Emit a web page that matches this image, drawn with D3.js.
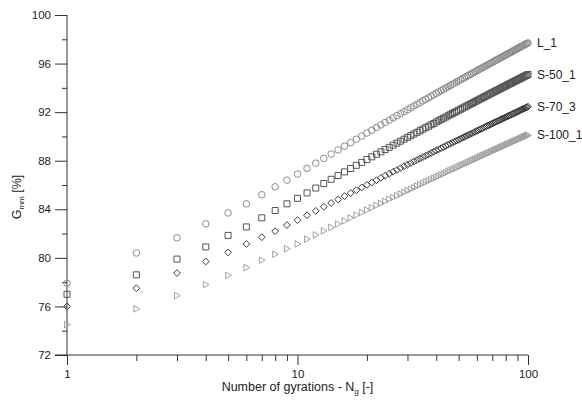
<!DOCTYPE html>
<html><head><meta charset="utf-8">
<script src="https://cdn.jsdelivr.net/npm/d3@7"></script>
<style>
html,body{margin:0;padding:0;background:#fff;}
svg{display:block;font-family:"Liberation Sans",Arial,sans-serif;}
</style></head>
<body><svg id="c" width="582" height="409"></svg>
<script>
const gyrations = d3.range(1, 101);
const seriesNames = ["L_1", "S-50_1", "S-70_3", "S-100_1"];
const L_1 = [77.9,80.4,81.65,82.8,83.7,84.45,85.2,85.85,86.4,
86.9,87.37,87.8,88.19,88.55,88.89,89.2,89.49,89.77,90.03,90.28,90.51,90.73,90.95,91.15,91.34,91.53,91.71,91.88,92.04,
92.2,92.36,92.51,92.65,92.79,92.93,93.06,93.18,93.31,93.43,93.55,93.66,93.77,93.88,93.99,94.09,94.19,94.29,94.39,94.48,
94.58,94.67,94.75,94.84,94.93,95.01,95.09,95.17,95.25,95.33,95.41,95.48,95.56,95.63,95.7,95.77,95.84,95.91,95.98,96.04,
96.11,96.17,96.23,96.3,96.36,96.42,96.48,96.53,96.59,96.65,96.71,96.76,96.82,96.87,96.92,96.98,97.03,97.08,97.13,97.18,
97.23,97.28,97.33,97.38,97.43,97.47,97.52,97.57,97.61,97.66,97.7];
const S_50_1 = [77.0,78.6,79.9,80.9,81.85,82.55,83.3,83.9,84.45,
84.9,85.35,85.75,86.12,86.47,86.78,87.08,87.36,87.62,87.86,88.1,88.32,88.53,88.73,88.92,89.1,89.28,89.45,89.61,89.77,
89.92,90.06,90.2,90.34,90.47,90.6,90.72,90.84,90.96,91.07,91.19,91.29,91.4,91.5,91.6,91.7,91.79,91.89,91.98,92.07,
92.16,92.24,92.33,92.41,92.49,92.57,92.65,92.72,92.8,92.87,92.94,93.01,93.08,93.15,93.22,93.28,93.35,93.41,93.48,93.54,
93.6,93.66,93.72,93.78,93.83,93.89,93.95,94.0,94.06,94.11,94.16,94.22,94.27,94.32,94.37,94.42,94.47,94.52,94.57,94.61,
94.66,94.71,94.75,94.8,94.84,94.89,94.93,94.97,95.02,95.06,95.1];
const S_70_3 = [76.0,77.5,78.75,79.7,80.45,81.15,81.7,82.2,82.7,
83.1,83.51,83.87,84.21,84.52,84.81,85.08,85.33,85.57,85.8,86.01,86.21,86.4,86.59,86.76,86.93,87.09,87.24,87.39,87.54,
87.67,87.81,87.94,88.06,88.18,88.3,88.41,88.52,88.63,88.74,88.84,88.94,89.03,89.13,89.22,89.31,89.4,89.48,89.57,89.65,
89.73,89.81,89.89,89.96,90.04,90.11,90.18,90.25,90.32,90.39,90.45,90.52,90.58,90.65,90.71,90.77,90.83,90.89,90.95,91.0,
91.06,91.12,91.17,91.23,91.28,91.33,91.38,91.43,91.49,91.53,91.58,91.63,91.68,91.73,91.77,91.82,91.87,91.91,91.96,92.0,
92.04,92.08,92.13,92.17,92.21,92.25,92.29,92.33,92.37,92.41,92.45];
const S_100_1 = [74.5,75.8,76.9,77.8,78.55,79.2,79.8,80.3,80.75,
81.15,81.54,81.89,82.22,82.51,82.79,83.05,83.29,83.52,83.74,83.94,84.13,84.32,84.49,84.66,84.82,84.97,85.12,85.26,85.4,
85.53,85.66,85.78,85.9,86.02,86.13,86.24,86.35,86.45,86.55,86.65,86.74,86.83,86.92,87.01,87.1,87.18,87.27,87.34,87.42,
87.5,87.58,87.65,87.72,87.79,87.86,87.93,88.0,88.06,88.13,88.19,88.25,88.32,88.38,88.44,88.49,88.55,88.61,88.66,88.72,
88.77,88.83,88.88,88.93,88.98,89.03,89.08,89.13,89.18,89.22,89.27,89.32,89.36,89.41,89.45,89.5,89.54,89.58,89.63,89.67,
89.71,89.75,89.79,89.83,89.87,89.91,89.95,89.99,90.03,90.06,90.1];
const yTicksMajor = [72, 76, 80, 84, 88, 92, 96, 100];
const yTicksMinor = [74, 78, 82, 86, 90, 94, 98];
const xTicksMajor = [1, 10, 100];
const xTicksMinor = [2,3,4,5,6,7,8,9,20,30,40,50,60,70,80,90];

const seriesValues = [L_1, S_50_1, S_70_3, S_100_1];
const markerStyle = [
  {shape: "circle", color: "#8c8c8c"},
  {shape: "square", color: "#555"},
  {shape: "diamond", color: "#3a3a3a"},
  {shape: "triangle", color: "#a0a0a0"}
];

const svg = d3.select("#c");
const x = d3.scaleLog().domain([1, 100]).range([67, 528]);
const y = d3.scaleLinear().domain([72, 100]).range([355, 15]);
const axisColor = "#333";

// y axis
const yAxis = svg.append("g").attr("transform", "translate(67,0)");
yAxis.call(d3.axisLeft(y).tickValues(yTicksMajor).tickSize(12).tickPadding(4).tickFormat(d3.format("d")));
yAxis.append("g").call(d3.axisLeft(y).tickValues(yTicksMinor).tickSize(5).tickFormat(""));
yAxis.selectAll(".domain").remove();
yAxis.append("line").attr("x1",0).attr("x2",0).attr("y1",y(100)).attr("y2",y(72));

// x axis
const xAxis = svg.append("g").attr("transform", "translate(0,355)");
xAxis.call(d3.axisBottom(x).tickValues(xTicksMajor).tickSize(10).tickPadding(5).tickFormat(d3.format("d")));
xAxis.append("g").call(d3.axisBottom(x).tickValues(xTicksMinor).tickSize(6).tickFormat(""));
xAxis.selectAll(".domain").remove();
xAxis.append("line").attr("x1",55).attr("x2",x(100)).attr("y1",0).attr("y2",0);

svg.selectAll(".tick line, g > line").attr("stroke", axisColor).attr("stroke-width", 1);
svg.selectAll(".tick text").attr("fill", "#222").style("font-size", "11.5px").style("font-family", '"Liberation Sans",Arial,sans-serif');

// axis titles
const xt = svg.append("text").attr("x", x(10)).attr("y", 391).attr("text-anchor", "middle")
  .attr("fill", "#222").style("font-size", "12.5px");
xt.append("tspan").text("Number of gyrations - N");
xt.append("tspan").attr("dy", 3).style("font-size", "8px").text("g");
xt.append("tspan").attr("dy", -3).text(" [-]");

const yt = svg.append("text").attr("transform", "translate(21,197) rotate(-90)").attr("text-anchor", "middle")
  .attr("fill", "#222").style("font-size", "12.5px");
yt.append("tspan").text("G");
yt.append("tspan").attr("dy", 3).style("font-size", "8px").text("mm");
yt.append("tspan").attr("dy", -3).text(" [%]");

// marker paths
function markerPath(shape) {
  switch (shape) {
    case "circle": return d3.symbol().type(d3.symbolCircle).size(34)();
    case "square": return "M-3,-3L3,-3L3,3L-3,3Z";
    case "diamond": return "M0,-3.4L3.4,0L0,3.4L-3.4,0Z";
    case "triangle": return "M-2.5,-3.3L3.3,0L-2.5,3.3Z";
  }
}

seriesValues.forEach((vals, i) => {
  const st = markerStyle[i];
  const g = svg.append("g");
  g.selectAll("path").data(gyrations.map((n, k) => [n, vals[k]])).join("path")
    .attr("d", markerPath(st.shape))
    .attr("transform", d => `translate(${x(d[0])},${y(d[1])})`)
    .attr("fill", "none").attr("stroke", st.color).attr("stroke-width", 1);
  svg.append("text").attr("x", x(100) + 9).attr("y", y(vals[vals.length - 1]))
    .attr("dy", "0.35em").attr("fill", "#222").style("font-size", "12px").text(seriesNames[i]);
});
</script></body></html>
